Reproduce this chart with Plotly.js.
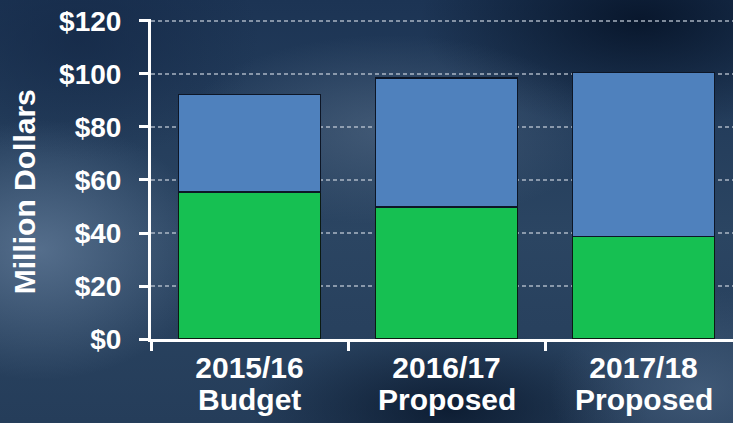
<!DOCTYPE html>
<html>
<head>
<meta charset="utf-8">
<script src="https://cdn.plot.ly/plotly-3.0.1.min.js"></script>
<style>
  html, body { margin: 0; padding: 0; }
  body {
    width: 733px; height: 423px; overflow: hidden;
    background-color: #1b314e;
    background-image:
      radial-gradient(ellipse 170px 130px at 40px 250px, rgba(95,120,150,0.8), rgba(95,120,150,0) 100%),
      radial-gradient(ellipse 210px 95px at 390px 130px, rgba(85,108,135,0.6), rgba(85,108,135,0) 100%),
      radial-gradient(ellipse 150px 100px at 700px 390px, rgba(80,105,135,0.6), rgba(80,105,135,0) 100%),
      radial-gradient(ellipse 220px 110px at 640px 20px, rgba(5,18,38,0.85), rgba(5,18,38,0) 100%),
      radial-gradient(ellipse 200px 80px at 450px 410px, rgba(8,22,42,0.8), rgba(8,22,42,0) 100%),
      radial-gradient(ellipse 180px 120px at 80px 40px, rgba(20,40,70,0.7), rgba(20,40,70,0) 100%),
      linear-gradient(180deg, #1c3454 0%, #2b4562 55%, #253d5a 100%);
  }
  #chart { width: 733px; height: 423px; }
</style>
</head>
<body>
<div id="chart"></div>
<script>
// Data
const years = ["2015/16", "2016/17", "2017/18"];
const kinds = ["Budget", "Proposed", "Proposed"];
const greenValues = [55.4, 49.9, 38.6];
const blueValues = [36.9, 48.5, 62.0];
const yTickVals = [0, 20, 40, 60, 80, 100, 120];
const yTickText = ["$0", "$20", "$40", "$60", "$80", "$100", "$120"];
const yTitle = "Million Dollars";

const fontFam = "Liberation Sans, Arial, Helvetica, sans-serif";

const traces = [
  {
    type: "bar", x: years, y: greenValues, name: "Green",
    marker: { color: "#16c052", line: { color: "#0b1a12", width: 1.5 } },
    hoverinfo: "none"
  },
  {
    type: "bar", x: years, y: blueValues, name: "Blue",
    marker: { color: "#4f81bd", line: { color: "#0d1626", width: 1.5 } },
    hoverinfo: "none"
  }
];

const annotations = years.map((yr, i) => ({
  x: yr, xref: "x", y: 0, yref: "paper",
  text: kinds[i], showarrow: false,
  xanchor: "center", yanchor: "top", yshift: -42,
  font: { family: fontFam, size: 30, color: "#ffffff", weight: 700 }
}));
annotations.push({
  x: -0.218, xref: "paper", y: 0.459, yref: "paper",
  text: yTitle, showarrow: false, textangle: -90,
  xanchor: "center", yanchor: "middle",
  font: { family: fontFam, size: 30, color: "#ffffff", weight: 700 }
});

const layout = {
  width: 733, height: 423,
  margin: { l: 151, r: 0, t: 19, b: 84, pad: 0 },
  paper_bgcolor: "rgba(0,0,0,0)",
  plot_bgcolor: "rgba(0,0,0,0)",
  barmode: "stack",
  bargap: 0.28,
  showlegend: false,
  xaxis: {
    range: [-0.5, 2.454],
    showline: true, linecolor: "#ffffff", linewidth: 3,
    ticks: "outside", tickson: "boundaries", ticklen: 9, tickwidth: 3, tickcolor: "#ffffff",
    tickfont: { family: fontFam, size: 30, color: "#ffffff", weight: 700 },
    ticklabelstandoff: 0,
    showgrid: false, zeroline: false, fixedrange: true
  },
  yaxis: {
    range: [0, 120.75],
    tickvals: yTickVals, ticktext: yTickText,
    showline: true, linecolor: "#ffffff", linewidth: 3,
    ticks: "outside", ticklen: 9, tickwidth: 3, tickcolor: "#ffffff",
    tickfont: { family: fontFam, size: 28, color: "#ffffff", weight: 700 },
    ticklabelstandoff: 12,
    showgrid: true, gridcolor: "rgba(190,200,212,0.65)", gridwidth: 1.5, griddash: "4px,3px",
    zeroline: false, fixedrange: true
  },
  annotations: annotations
};

Plotly.newPlot("chart", traces, layout, { displayModeBar: false, staticPlot: true });
</script>
</body>
</html>
